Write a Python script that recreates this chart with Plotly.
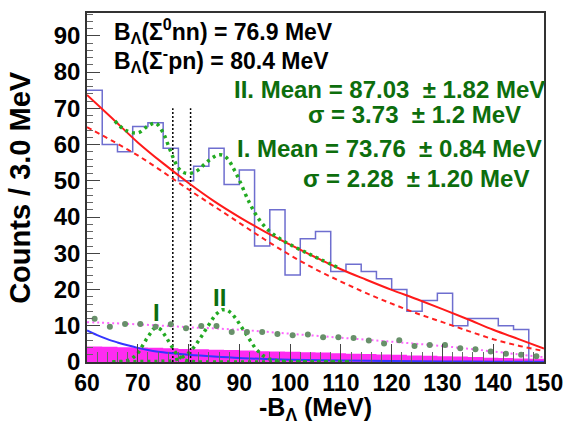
import numpy as np
import plotly.graph_objects as go

FONT = "Liberation Sans"

# ---- histogram: counts per 3 MeV bin, 60-150 MeV ----
bin_edges = list(range(60, 151, 3))
counts = [75, 60, 58, 65, 66, 59, 50, 54, 59, 49, 53, 32, 42, 24, 34,
          36, 25, 27, 25, 23, 20, 14, 17, 19, 10, 12, 12, 10, 9, 0]

# filled background histogram (same binning)
bkg_band = [4.3, 4.2, 4.1, 4.0, 3.9, 3.8, 3.6, 3.5, 3.4, 3.3, 3.2, 3.0, 2.9, 2.8, 2.7,
            2.6, 2.4, 2.3, 2.2, 2.1, 2.0, 1.8, 1.7, 1.6, 1.5, 1.4, 1.2, 1.1, 1.0, 0.9]

# side-band points at bin centres
side_x = [61.5 + 3 * i for i in range(30)]
side_y = [11.9, 9.7, 10.5, 10.5, 9.7, 10.4, 9.3, 9.9, 9.9, 8.3, 8.3, 8.3, 7.7, 7.4, 7.6,
          6.8, 6.8, 6.6, 5.9, 5.1, 6.0, 4.4, 4.7, 4.7, 3.8, 3.5, 2.9, 2.3, 2.0, 1.6]

# smooth background curves
curve_x = [60, 65, 70, 75, 80, 85, 90, 95, 100, 105, 110, 115, 120, 125, 130, 135, 140, 145, 150]
bg_total = [73.7, 67.2, 60.6, 54.8, 49.4, 44.4, 40.0, 36.0, 32.4, 28.9, 25.6, 22.7, 19.9,
            17.3, 14.6, 11.8, 8.9, 6.3, 3.7]
bg_alt = [64.8, 61.0, 57.0, 52.4, 47.6, 43.0, 38.4, 33.8, 29.5, 25.6, 22.2, 19.0, 16.1,
          13.4, 11.0, 8.6, 6.3, 4.5, 3.0]

expo_x = [60, 62, 64, 66, 68, 70, 72, 74, 77, 80, 85, 90, 95, 100, 110, 120, 130, 140, 150]
expo_y = [8.7, 7.4, 6.3, 5.4, 4.6, 3.9, 3.3, 2.85, 2.4, 2.0, 1.5, 1.1, 0.85, 0.65, 0.4,
          0.25, 0.15, 0.1, 0.07]

flat_x = [60, 70, 80, 90, 100, 110, 120, 130, 140, 150]
flat_y = [11.0, 10.4, 9.6, 8.9, 7.8, 6.7, 5.6, 4.4, 2.9, 1.3]

# total fit (background + two peaks)
total_x = [65.5, 67.5, 70, 72, 73.5, 75, 76, 77, 78, 79, 80, 81, 82, 83, 84, 85, 86, 87,
           88, 89, 90, 92, 94, 96, 98, 100, 103, 106, 110]
total_y = [66.5, 64.0, 63.2, 65.1, 65.9, 63.2, 59.8, 56.3, 53.5, 52.3, 52.0, 52.3, 53.1,
           54.4, 55.6, 56.6, 57.2, 56.9, 55.5, 53.0, 50.2, 43.9, 39.1, 36.0, 34.0, 32.4,
           30.3, 28.3, 25.7]

# fitted peaks
peak_I = dict(mean=73.76, mean_err=0.84, sigma=2.28, sigma_err="1.20", amp=9.5)
peak_II = dict(mean=87.03, mean_err=1.82, sigma=3.73, sigma_err="1.2", amp=14.5)
peak_range = (65.0, 112.0)

# thresholds
B_SIG0_NN = 76.9
B_SIGM_PN = 80.4
threshold_top = 70

GREEN_TXT = "#0d6e0d"
NB = "\u00a0"


def gauss(p, x):
    return p["amp"] * np.exp(-(x - p["mean"]) ** 2 / (2 * p["sigma"] ** 2))


fig = go.Figure()

# magenta filled background histogram
fig.add_trace(go.Scatter(
    x=bin_edges, y=bkg_band + [bkg_band[-1]], mode="lines", line_shape="hv",
    line=dict(width=0, color="#ff00ff"), fill="tozeroy",
    fillcolor="rgba(255,20,240,0.9)", hoverinfo="skip"))

# data histogram
fig.add_trace(go.Scatter(
    x=bin_edges, y=counts + [counts[-1]], mode="lines", line_shape="hv",
    line=dict(color="#6e6ecf", width=1.5)))

# threshold markers
for b in (B_SIG0_NN, B_SIGM_PN):
    fig.add_trace(go.Scatter(
        x=[b, b], y=[0, threshold_top], mode="lines",
        line=dict(color="black", width=1.5, dash="2px,2px")))

# backgrounds
fig.add_trace(go.Scatter(x=flat_x, y=flat_y, mode="lines", line_shape="spline",
                         line=dict(color="#ff66ff", width=2, dash="2px,3px")))
fig.add_trace(go.Scatter(x=expo_x, y=expo_y, mode="lines", line_shape="spline",
                         line=dict(color="#3535ff", width=2)))
fig.add_trace(go.Scatter(x=curve_x, y=bg_alt, mode="lines", line_shape="spline",
                         line=dict(color="#ff2020", width=2, dash="5px,4px")))
fig.add_trace(go.Scatter(x=curve_x, y=bg_total, mode="lines", line_shape="spline",
                         line=dict(color="#ff1a1a", width=2)))

# peaks
gx = np.linspace(peak_range[0], peak_range[1], 190)
for p in (peak_I, peak_II):
    fig.add_trace(go.Scatter(x=gx, y=gauss(p, gx), mode="lines",
                             line=dict(color="#22aa22", width=3.5, dash="3px,4px")))

fig.add_trace(go.Scatter(x=total_x, y=total_y, mode="lines", line_shape="spline",
                         line=dict(color="#22aa22", width=3.5, dash="3px,4px")))

# side-band points
fig.add_trace(go.Scatter(x=side_x, y=side_y, mode="markers",
                         marker=dict(color="#68906a", size=6)))


def txt(x, y, s, color="black", size=24, anchor="left"):
    fig.add_annotation(x=x, y=y, xref="x", yref="y", text=s, showarrow=False,
                       xanchor=anchor, yanchor="middle",
                       font=dict(family=FONT, size=size, color=color, weight="bold"))


def pm(v, e):
    return f"{v}{NB}{NB}±{NB}{e}"


txt(65.0, 91.4, f"B<sub>Λ</sub>(Σ<sup>0</sup>nn) = {B_SIG0_NN} MeV", size=23)
txt(65.0, 83.4, f"B<sub>Λ</sub>(Σ<sup>-</sup>pn) = {B_SIGM_PN} MeV", size=23)
txt(88.6, 75.2, "II. Mean = " + pm(f"{peak_II['mean']:.2f}", f"{peak_II['mean_err']:.2f}") + " MeV",
    GREEN_TXT)
txt(103.1, 68.4, "σ = " + pm(f"{peak_II['sigma']:.2f}", peak_II['sigma_err']) + " MeV", GREEN_TXT)
txt(89.2, 58.8, "I. Mean = " + pm(f"{peak_I['mean']:.2f}", f"{peak_I['mean_err']:.2f}") + " MeV",
    GREEN_TXT)
txt(102.1, 50.5, "σ = " + pm(f"{peak_I['sigma']:.2f}", peak_I['sigma_err']) + " MeV", GREEN_TXT)
txt(73.65, 13.6, "I", GREEN_TXT, 24, "center")
txt(86.1, 17.7, "II", GREEN_TXT, 24, "center")

# axis titles
fig.add_annotation(x=0.5, y=-0.134, xref="paper", yref="paper", showarrow=False,
                   text="-B<sub>Λ</sub> (MeV)", xanchor="center", yanchor="middle",
                   font=dict(family=FONT, size=25, color="black", weight="bold"))
fig.add_annotation(x=-0.148, y=0.5, xref="paper", yref="paper", showarrow=False,
                   text="Counts / 3.0 MeV", textangle=-90, xanchor="center", yanchor="middle",
                   font=dict(family=FONT, size=29, color="black", weight="bold"))

fig.update_layout(
    width=574, height=425, autosize=False,
    margin=dict(l=87, r=21, t=11, b=63),
    paper_bgcolor="white", plot_bgcolor="white",
    showlegend=False,
    xaxis=dict(range=[60, 150], tick0=60, dtick=10, ticks="inside", ticklen=18,
               tickcolor="#444", tickwidth=1, showgrid=False, zeroline=False,
               showline=True, linecolor="#333", linewidth=1.5, mirror=True,
               tickfont=dict(family=FONT, size=23, color="black", weight="bold"),
               minor=dict(dtick=2, ticks="inside", ticklen=10, tickcolor="#666", showgrid=False)),
    yaxis=dict(range=[0, 96.3], tick0=0, dtick=10, ticks="inside", ticklen=13,
               tickcolor="#444", tickwidth=1, showgrid=False, zeroline=False,
               showline=True, linecolor="#333", linewidth=1.5, mirror=True,
               tickfont=dict(family=FONT, size=24, color="black", weight="bold"),
               minor=dict(dtick=2, ticks="inside", ticklen=6, tickcolor="#666", showgrid=False)),
)

fig.write_html("out.html")
